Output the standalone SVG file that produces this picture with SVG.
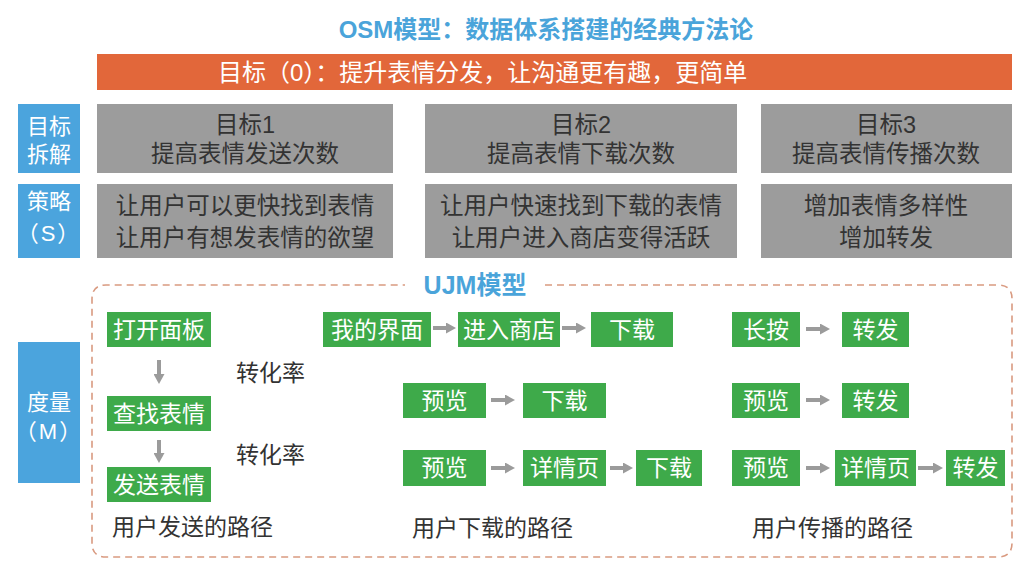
<svg xmlns="http://www.w3.org/2000/svg" width="1024" height="569" viewBox="0 0 1024 569">
<style>
text{font-family:"Liberation Sans","Noto Sans CJK SC",sans-serif;dominant-baseline:central}
.title{font-size:24px;fill:#4aa4da;font-weight:bold;text-anchor:middle}
.lab{fill:#4ba4dd}
.labt{font-size:22px;fill:#fff;text-anchor:middle}
.gray{fill:#9c9c9c}
.grayt{font-size:23.5px;fill:#333;text-anchor:middle}
.stt{font-size:23.5px;fill:#333;text-anchor:middle}
.green{fill:#3eaa4a}
.gt{font-size:23px;fill:#fff;text-anchor:middle}
.dark{font-size:23px;fill:#333}
.arr{stroke:#9b9b9b;stroke-width:4;fill:none;marker-end:url(#ah)}
</style>
<defs>
<marker id="ah" markerUnits="userSpaceOnUse" markerWidth="10" markerHeight="11" viewBox="0 0 10 11" refX="0" refY="5.5" orient="auto">
<path d="M0,0 L10,5.5 L0,11 z" fill="#9b9b9b"/>
</marker>
</defs>
<rect width="1024" height="569" fill="#fff"/>
<text id="title" class="title" x="546" y="29">OSM模型：数据体系搭建的经典方法论</text>
<g id="goal">
<rect x="97" y="54" width="915" height="36" fill="#e2673a"/>
<text x="218" y="72" style="font-size:24px;fill:#fff">目标（0）：提升表情分发，让沟通更有趣，更简单</text>
</g>
<g id="lab-goal"><rect class="lab" x="18" y="104" width="62" height="69"/><text class="labt" x="49" y="126">目标</text><text class="labt" x="49" y="154">拆解</text></g>
<g id="lab-s"><rect class="lab" x="18" y="184" width="62" height="74"/><text class="labt" x="49" y="201">策略</text><text class="labt" x="49" y="233" letter-spacing="2">（S）</text></g>
<g id="lab-m"><rect class="lab" x="18" y="342" width="62" height="141"/><text class="labt" x="49" y="402">度量</text><text class="labt" x="49" y="431" letter-spacing="2">（M）</text></g>
<g id="g1"><rect class="gray" x="97" y="104" width="296" height="69"/><text class="grayt" x="245" y="125">目标1</text><text class="grayt" x="245" y="154">提高表情发送次数</text></g>
<g id="g2"><rect class="gray" x="425" y="104" width="312" height="69"/><text class="grayt" x="581" y="125">目标2</text><text class="grayt" x="581" y="154">提高表情下载次数</text></g>
<g id="g3"><rect class="gray" x="761" y="104" width="251" height="69"/><text class="grayt" x="886" y="125">目标3</text><text class="grayt" x="886" y="154">提高表情传播次数</text></g>
<g id="s1"><rect class="gray" x="97" y="184" width="296" height="74"/><text class="stt" x="245" y="206">让用户可以更快找到表情</text><text class="stt" x="245" y="238">让用户有想发表情的欲望</text></g>
<g id="s2"><rect class="gray" x="425" y="184" width="312" height="74"/><text class="stt" x="581" y="206">让用户快速找到下载的表情</text><text class="stt" x="581" y="238">让用户进入商店变得活跃</text></g>
<g id="s3"><rect class="gray" x="761" y="184" width="251" height="74"/><text class="stt" x="886" y="206">增加表情多样性</text><text class="stt" x="886" y="238">增加转发</text></g>
<g id="ujm">
<path d="M545,285 H998 Q1012,285 1012,299 V543 Q1012,557 998,557 H106 Q92,557 92,543 V299 Q92,285 106,285 H405" fill="none" stroke="#d99a80" stroke-width="1.6" stroke-dasharray="7 5"/>
<text x="475" y="285" style="font-size:25px;fill:#4aa4da;font-weight:bold;text-anchor:middle">UJM模型</text>
</g>
<g id="n-open"><rect class="green" x="107" y="312" width="104" height="35"/><text class="gt" x="159" y="329.5">打开面板</text></g>
<g id="n-find"><rect class="green" x="107" y="396" width="104" height="35"/><text class="gt" x="159" y="413.5">查找表情</text></g>
<g id="n-send"><rect class="green" x="107" y="467" width="104" height="35"/><text class="gt" x="159" y="484.5">发送表情</text></g>
<text class="dark" x="236" y="373">转化率</text>
<text class="dark" x="236" y="455">转化率</text>
<text class="dark" x="112" y="527">用户发送的路径</text>
<g id="n-my"><rect class="green" x="323" y="312" width="108" height="35"/><text class="gt" x="377" y="329.5">我的界面</text></g>
<g id="n-store"><rect class="green" x="458" y="312" width="102" height="35"/><text class="gt" x="509" y="329.5">进入商店</text></g>
<g id="n-dl1"><rect class="green" x="591" y="312" width="82" height="35"/><text class="gt" x="632" y="329.5">下载</text></g>
<g id="n-pv1"><rect class="green" x="403" y="383" width="83" height="35"/><text class="gt" x="444.5" y="400.5">预览</text></g>
<g id="n-dl2"><rect class="green" x="523" y="383" width="83" height="35"/><text class="gt" x="564.5" y="400.5">下载</text></g>
<g id="n-pv2"><rect class="green" x="403" y="450" width="83" height="36"/><text class="gt" x="444.5" y="468">预览</text></g>
<g id="n-detail1"><rect class="green" x="523" y="450" width="83" height="36"/><text class="gt" x="564.5" y="468">详情页</text></g>
<g id="n-dl3"><rect class="green" x="636" y="450" width="66" height="36"/><text class="gt" x="669" y="468">下载</text></g>
<text class="dark" x="412" y="528">用户下载的路径</text>
<g id="n-press"><rect class="green" x="732" y="312" width="68" height="35"/><text class="gt" x="766" y="329.5">长按</text></g>
<g id="n-fw1"><rect class="green" x="842" y="312" width="67" height="35"/><text class="gt" x="875.5" y="329.5">转发</text></g>
<g id="n-pv3"><rect class="green" x="732" y="383" width="68" height="35"/><text class="gt" x="766" y="400.5">预览</text></g>
<g id="n-fw2"><rect class="green" x="842" y="383" width="67" height="35"/><text class="gt" x="875.5" y="400.5">转发</text></g>
<g id="n-pv4"><rect class="green" x="732" y="450" width="68" height="36"/><text class="gt" x="766" y="468">预览</text></g>
<g id="n-detail2"><rect class="green" x="835" y="450" width="81" height="36"/><text class="gt" x="875.5" y="468">详情页</text></g>
<g id="n-fw3"><rect class="green" x="946" y="450" width="59" height="36"/><text class="gt" x="975.5" y="468">转发</text></g>
<text class="dark" x="752" y="528">用户传播的路径</text>
<g id="connectors">
<line class="arr" x1="159" y1="360" x2="159" y2="374"/>
<line class="arr" x1="159" y1="440" x2="159" y2="453"/>
<line class="arr" x1="433" y1="328" x2="446" y2="328"/>
<line class="arr" x1="562" y1="328" x2="576" y2="328"/>
<line class="arr" x1="491" y1="400" x2="505" y2="400"/>
<line class="arr" x1="491" y1="468" x2="505" y2="468"/>
<line class="arr" x1="610" y1="468" x2="623" y2="468"/>
<line class="arr" x1="806" y1="329" x2="820" y2="329"/>
<line class="arr" x1="806" y1="400" x2="820" y2="400"/>
<line class="arr" x1="806" y1="468" x2="820" y2="468"/>
<line class="arr" x1="918" y1="468" x2="933" y2="468"/>
</g>
</svg>
